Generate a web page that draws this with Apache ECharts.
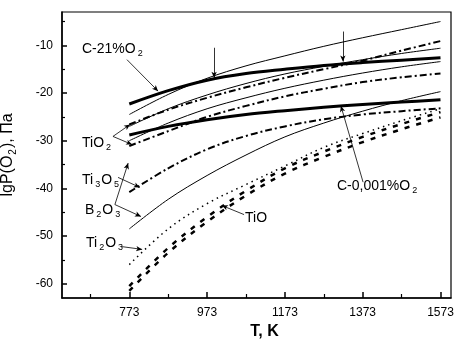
<!DOCTYPE html>
<html>
<head>
<meta charset="utf-8">
<script src="https://cdn.jsdelivr.net/npm/echarts@6/dist/echarts.min.js"></script>
<style>
  html, body { margin: 0; padding: 0; background: #fff; }
  #chart { width: 460px; height: 344px; }
</style>
</head>
<body>
<div id="chart"></div>
<script>
// temperatures, K
const temps = [773, 873, 973, 1073, 1173, 1273, 1373, 1473, 1573];

// lgP(O2)
const c21 = [-22.3, -19.5, -17.3, -15.9, -15.0, -14.2, -13.6, -13.1, -12.6];
const c0001 = [-28.8, -27.0, -25.6, -24.5, -23.7, -23.0, -22.4, -21.9, -21.4];
const thinA = [-24.5, -20.3, -16.9, -14.3, -12.2, -10.2, -8.4, -6.7, -5.0];
const thinB = [-27.0, -23.3, -20.4, -18.0, -16.0, -14.4, -13.0, -11.7, -10.6];
const thinC = [-30.0, -26.3, -23.3, -21.0, -19.0, -17.3, -15.8, -14.5, -13.4];
const tio2A = [-26.6, -23.5, -21.0, -18.8, -16.8, -15.0, -13.2, -11.1, -9.1];
const tio2B = [-31.1, -28.0, -25.0, -22.7, -20.7, -19.1, -17.7, -16.7, -15.9];
const ti3o5 = [-40.8, -35.8, -31.8, -29.0, -27.0, -25.5, -24.5, -23.8, -23.2];
const b2o3 = [-48.5, -42.3, -37.3, -33.0, -29.2, -26.3, -23.8, -21.6, -19.7];
const ti2o3 = [-56.0, -48.5, -43.2, -39.2, -35.3, -31.4, -28.5, -25.8, -23.3];
const tioA = [-60.5, -52.5, -46.0, -40.5, -35.8, -32.3, -29.2, -26.5, -24.0];
const tioB = [-61.5, -53.5, -47.0, -41.5, -36.9, -33.4, -30.3, -27.6, -25.1];

// axis ticks
const xLabelTicks = [773, 973, 1173, 1373, 1573];
const xMinorTicks = [673, 873, 1073, 1273, 1473];
const yLabelTicks = [-60, -50, -40, -30, -20, -10];
const yMinorTicks = [-55, -45, -35, -25, -15, -5];

// leader lines [from, to], in data units; arrow at "to" end
const leaders = [
  [[767, -13.0], [847, -19.6]],
  [[991, -10.5], [991, -16.8]],
  [[1322, -7.1], [1322, -13.4]],
  [[731, -29.1], [775, -26.6]],
  [[731, -29.1], [780, -30.8]],
  [[744, -37.7], [800, -39.8]],
  [[736, -43.4], [770, -34.7]],
  [[736, -43.4], [803, -45.9]],
  [[752, -52.2], [806, -52.8]],
  [[1068, -45.5], [1011, -43.6]],
  [[1374, -38.7], [1317, -22.7]]
];

const FONT = 'Liberation Sans';

function pairs(ys) {
  return temps.map((t, i) => [t, ys[i]]);
}

function curve(name, ys, width, type) {
  return {
    name: name,
    type: 'line',
    data: pairs(ys),
    smooth: 0.35,
    showSymbol: false,
    silent: true,
    lineStyle: { color: '#000', width: width, type: type, cap: 'butt' },
    z: width > 2 ? 4 : 3
  };
}

const chart = echarts.init(document.getElementById('chart'));

const subRich = {
  n: { fontFamily: FONT, fontSize: 14, color: '#000' },
  s: { fontFamily: FONT, fontSize: 9, color: '#000', padding: [9, 1, 0, 2] }
};

function label(text, left, top) {
  return {
    type: 'text',
    left: left,
    top: top,
    silent: true,
    style: { text: text, rich: subRich, fill: '#000' }
  };
}

const option = {
  animation: false,
  grid: { left: 62, right: 9, top: 12, bottom: 46, show: true, borderColor: '#000', borderWidth: 1.2, containLabel: false, outerBoundsMode: 'none' },
  xAxis: [
    {
      type: 'value', min: 600, max: 1600,
      name: 'T, K', nameLocation: 'middle', nameGap: 26,
      nameTextStyle: { fontFamily: FONT, fontSize: 16, fontWeight: 'bold', color: '#000', padding: [0, 0, 0, 16] },
      axisLine: { lineStyle: { color: '#000', width: 1.5 } },
      axisTick: { inside: true, length: 6, customValues: xLabelTicks, lineStyle: { color: '#000', width: 1.5 } },
      axisLabel: { customValues: xLabelTicks, formatter: v => String(v), fontFamily: FONT, fontSize: 12, color: '#000', margin: 9 },
      splitLine: { show: false }
    },
    {
      type: 'value', min: 600, max: 1600, position: 'bottom',
      axisLine: { show: false },
      axisTick: { inside: true, length: 4, customValues: xMinorTicks, lineStyle: { color: '#000', width: 1.2 } },
      axisLabel: { show: false },
      splitLine: { show: false }
    }
  ],
  yAxis: [
    {
      type: 'value', min: -63, max: -3,
      name: '{n|lgP(O}{s|2}{n|), Па}', nameLocation: 'middle', nameGap: 44,
      nameTextStyle: {
        color: '#000',
        rich: {
          n: { fontFamily: FONT, fontSize: 16, color: '#000' },
          s: { fontFamily: FONT, fontSize: 10, color: '#000', padding: [10, 1, 0, 1] }
        }
      },
      axisLine: { lineStyle: { color: '#000', width: 1.5 } },
      axisTick: { inside: true, length: 5, customValues: yLabelTicks, lineStyle: { color: '#000', width: 1.5 } },
      axisLabel: { customValues: yLabelTicks, fontFamily: FONT, fontSize: 12, color: '#000', margin: 9 },
      splitLine: { show: false }
    },
    {
      type: 'value', min: -63, max: -3, position: 'left',
      axisLine: { show: false },
      axisTick: { inside: true, length: 3, customValues: yMinorTicks, lineStyle: { color: '#000', width: 1.2 } },
      axisLabel: { show: false },
      splitLine: { show: false }
    }
  ],
  series: [
    curve('C-21%O2', c21, 3, 'solid'),
    curve('C-0.001%O2', c0001, 3, 'solid'),
    curve('thinA', thinA, 1, 'solid'),
    curve('thinB', thinB, 1, 'solid'),
    curve('thinC', thinC, 1, 'solid'),
    curve('TiO2 a', tio2A, 2, [7, 3, 2, 3]),
    curve('TiO2 b', tio2B, 2, [7, 3, 2, 3]),
    curve('Ti3O5', ti3o5, 2, [7, 3, 2, 3]),
    curve('B2O3', b2o3, 1, 'solid'),
    curve('Ti2O3', ti2o3, 1.5, [1.5, 4]),
    curve('TiO a', tioA, 2.5, [5, 7]),
    curve('TiO b', tioB, 2.5, [5, 7]),
    {
      name: 'leaders',
      type: 'line',
      data: [],
      silent: true,
      markLine: {
        silent: true,
        animation: false,
        label: { show: false },
        lineStyle: { color: '#000', width: 0.8, type: 'solid' },
        emphasis: { disabled: true },
        data: leaders.map(l => [
          { coord: l[0], symbol: 'none' },
          { coord: l[1], symbol: 'arrow', symbolSize: [4, 6] }
        ])
      }
    }
  ],
  graphic: [
    label('{n|C-21%O}{s|2}', 82, 42),
    label('{n|TiO}{s|2}', 82, 136),
    label('{n|Ti}{s|3}{n|O}{s|5}', 82, 173),
    label('{n|B}{s|2}{n|O}{s|3}', 85, 203),
    label('{n|Ti}{s|2}{n|O}{s|3}', 86, 236),
    label('{n|TiO}', 245, 211),
    label('{n|C-0,001%O}{s|2}', 337, 179)
  ]
};

chart.setOption(option);
</script>
</body>
</html>
